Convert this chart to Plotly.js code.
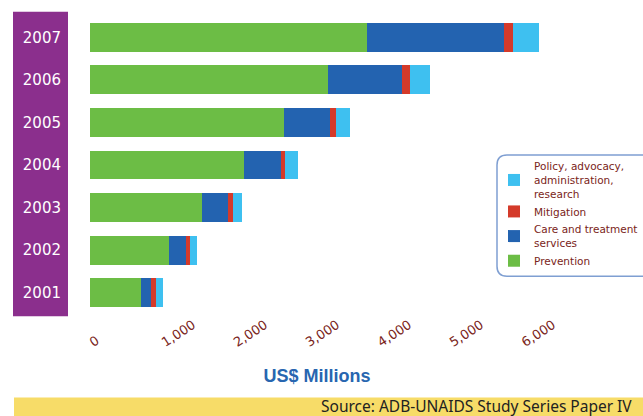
<!DOCTYPE html>
<html>
<head>
<meta charset="utf-8">
<script src="https://cdn.plot.ly/plotly-3.0.1.min.js"></script>
<style>
html,body{margin:0;padding:0;background:#fff;}
#chart{width:643px;height:416px;}
</style>
</head>
<body>
<div id="chart"></div>
<script>
// ---- data (US$ millions) ----
const years = ['2001','2002','2003','2004','2005','2006','2007'];
const prevention = [710, 1100, 1560, 2140, 2690, 3300, 3850];
const careTreatment = [140, 235, 360, 510, 650, 1040, 1900];
const mitigation = [65, 55, 60, 55, 70, 100, 130];
const policy = [95, 100, 125, 180, 200, 280, 360];
const tickValues = [0, 1000, 2000, 3000, 4000, 5000, 6000];
const tickLabels = ['0', '1,000', '2,000', '3,000', '4,000', '5,000', '6,000'];
const seriesNames = ['Prevention', 'Care and treatment<br>services', 'Mitigation', 'Policy, advocacy,<br>administration,<br>research'];

const colors = ['#6cbd45', '#2363b0', '#d43a2a', '#3ec0f0'];
const series = [prevention, careTreatment, mitigation, policy];

const traces = series.map((vals, i) => ({
  type: 'bar',
  orientation: 'h',
  y: years,
  x: vals,
  name: seriesNames[i],
  marker: {color: colors[i], line: {width: 0}},
  hoverinfo: 'x+name'
}));

// label "0" padded so its glyph starts at the tick like the others
const shownLabels = tickLabels.map((t, i) => i === 0 ? t + '\u00a0\u00a0\u00a0\u00a0\u00a0\u00a0\u00a0' : t);

const L = 90, R = 99, T = 16.25, B = 102.25;
const W = 643 - L - R, H = 416 - T - B;
const px = v => (v - L) / W;
const py = v => (416 - B - v) / H;

// rounded legend box path (paper coords)
const bx0 = px(497), bx1 = px(650), by0 = py(155), by1 = py(276);
const rx = 10 / W, ry = 10 / H;
const legendPath = `M ${bx0 + rx} ${by0} L ${bx1} ${by0} L ${bx1} ${by1} L ${bx0 + rx} ${by1} Q ${bx0} ${by1} ${bx0} ${by1 + ry} L ${bx0} ${by0 - ry} Q ${bx0} ${by0} ${bx0 + rx} ${by0} Z`;

const layout = {
  width: 643, height: 416,
  margin: {l: L, r: R, t: T, b: B, pad: 0, autoexpand: false},
  paper_bgcolor: '#ffffff',
  plot_bgcolor: 'rgba(0,0,0,0)',
  barmode: 'stack',
  bargap: 0.32,
  showlegend: true,
  font: {family: 'DejaVu Sans, sans-serif', color: '#7a2420'},
  xaxis: {
    range: [0, W / 0.072],
    tickvals: tickValues,
    ticktext: shownLabels,
    tickangle: -33,
    ticklabelshift: 31,
    ticks: '', showgrid: false, zeroline: false, showline: false,
    tickfont: {family: 'DejaVu Sans, sans-serif', size: 13, color: '#7a2420'},
    title: {text: 'US$ Millions', standoff: 20,
            font: {family: 'Liberation Sans, Arial, sans-serif', size: 18, color: '#2866b0', weight: 'bold'}},
    automargin: false,
    fixedrange: true
  },
  yaxis: {
    type: 'category',
    categoryorder: 'array', categoryarray: years,
    ticks: '', showgrid: false, zeroline: false, showline: false,
    ticklabelstandoff: 28,
    tickfont: {family: 'DejaVu Sans, sans-serif', size: 15, color: '#ffffff'},
    automargin: false,
    fixedrange: true
  },
  legend: {
    x: px(494), y: py(153), xanchor: 'left', yanchor: 'top',
    traceorder: 'reversed',
    bgcolor: 'rgba(0,0,0,0)', borderwidth: 0,
    font: {family: 'DejaVu Sans, sans-serif', size: 10.5, color: '#7a2420'},
    itemwidth: 30, tracegroupgap: 0
  },
  shapes: [
    {type: 'rect', xref: 'paper', yref: 'paper', layer: 'below',
     x0: px(13), x1: px(68), y0: py(12), y1: py(316),
     fillcolor: '#8b2f8d', line: {width: 0}},
    {type: 'rect', xref: 'paper', yref: 'paper', layer: 'below',
     x0: px(14), x1: px(660), y0: py(397), y1: py(420),
     fillcolor: '#f7dc68', line: {width: 0}},
    {type: 'path', xref: 'paper', yref: 'paper', layer: 'below',
     path: legendPath, fillcolor: 'rgba(0,0,0,0)', line: {color: '#7f9fd2', width: 1.5}}
  ],
  annotations: [
    {xref: 'paper', yref: 'paper', x: px(634), y: py(406), xanchor: 'right', yanchor: 'middle',
     text: 'Source: ADB-UNAIDS Study Series Paper IV', showarrow: false,
     font: {family: 'Noto Sans, sans-serif', size: 15.5, color: '#222222'}}
  ]
};

Plotly.newPlot('chart', traces, layout, {displayModeBar: false, staticPlot: true});
</script>
</body>
</html>
